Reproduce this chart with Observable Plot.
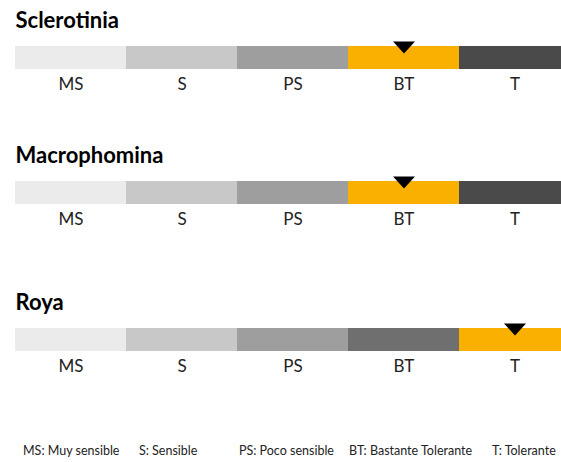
<!DOCTYPE html>
<html>
<head>
<meta charset="utf-8">
<script src="https://cdn.jsdelivr.net/npm/d3@7"></script>
<script src="https://cdn.jsdelivr.net/npm/@observablehq/plot@0.6"></script>
<style>
  html, body { margin: 0; padding: 0; background: #fff; overflow: hidden; }
  #chart { position: relative; width: 561px; height: 462px; overflow: hidden; font-family: Lato, "Noto Sans", sans-serif; }
  #chart svg { overflow: hidden; position: absolute; left: 0; }
  .legend { position: absolute; top: 443px; font-size: 12.5px; color: #222; white-space: nowrap; }
</style>
</head>
<body>
<div id="chart"></div>
<script>
// ---- data ----
const categories = ["MS", "S", "PS", "BT", "T"];
const diseases = ["Sclerotinia", "Macrophomina", "Roya"];
const ratings = ["BT", "BT", "T"];
const legendLabels = ["MS: Muy sensible", "S: Sensible", "PS: Poco sensible", "BT: Bastante Tolerante", "T: Tolerante"];

// ---- styles / layout ----
const grays = ["#ebebeb", "#c8c8c8", "#9e9e9e", "#6f6f6f", "#4a4a4a"];
const highlight = "#f9b000";
const rowTops = [0, 135, 282];
const legendLeft = [23, 139, 239, 349, 492];

const downTriangle = {
  draw(ctx, size) {
    const r = Math.sqrt(size / Math.PI);
    const h = r * 12 / 11;
    ctx.moveTo(-r, -h / 2);
    ctx.lineTo(r, -h / 2);
    ctx.lineTo(0, h / 2);
    ctx.closePath();
  }
};

const chart = document.getElementById("chart");

diseases.forEach((name, i) => {
  const rating = ratings[i];
  const plot = Plot.plot({
    width: 561,
    height: 99,
    marginTop: 46,
    marginBottom: 30,
    marginLeft: 15,
    marginRight: 0,
    style: { fontFamily: "Lato, 'Noto Sans', sans-serif", background: "transparent", overflow: "hidden" },
    x: { type: "band", domain: categories, range: [15, 570], padding: 0, label: null },
    marks: [
      Plot.cell(categories, {
        x: d => d,
        fill: d => d === rating ? highlight : grays[categories.indexOf(d)]
      }),
      Plot.dot([rating], {
        x: d => d,
        frameAnchor: "top",
        dy: 1,
        r: 11,
        symbol: downTriangle,
        fill: "#000",
        stroke: "none"
      }),
      Plot.axisX({
        tickSize: 0,
        tickPadding: 8,
        fontSize: 17,
        label: null,
        fill: "#222"
      }),
      Plot.text([name], {
        frameAnchor: "top-left",
        dy: -19,
        lineAnchor: "bottom",
        textAnchor: "start",
        fontWeight: "bold",
        fontSize: 22,
        fill: "#000"
      })
    ]
  });
  plot.style.top = rowTops[i] + "px";
  plot.style.position = "absolute";
  chart.appendChild(plot);
});

legendLabels.forEach((t, i) => {
  const s = document.createElement("div");
  s.className = "legend";
  s.style.left = legendLeft[i] + "px";
  s.textContent = t;
  chart.appendChild(s);
});
</script>
</body>
</html>
